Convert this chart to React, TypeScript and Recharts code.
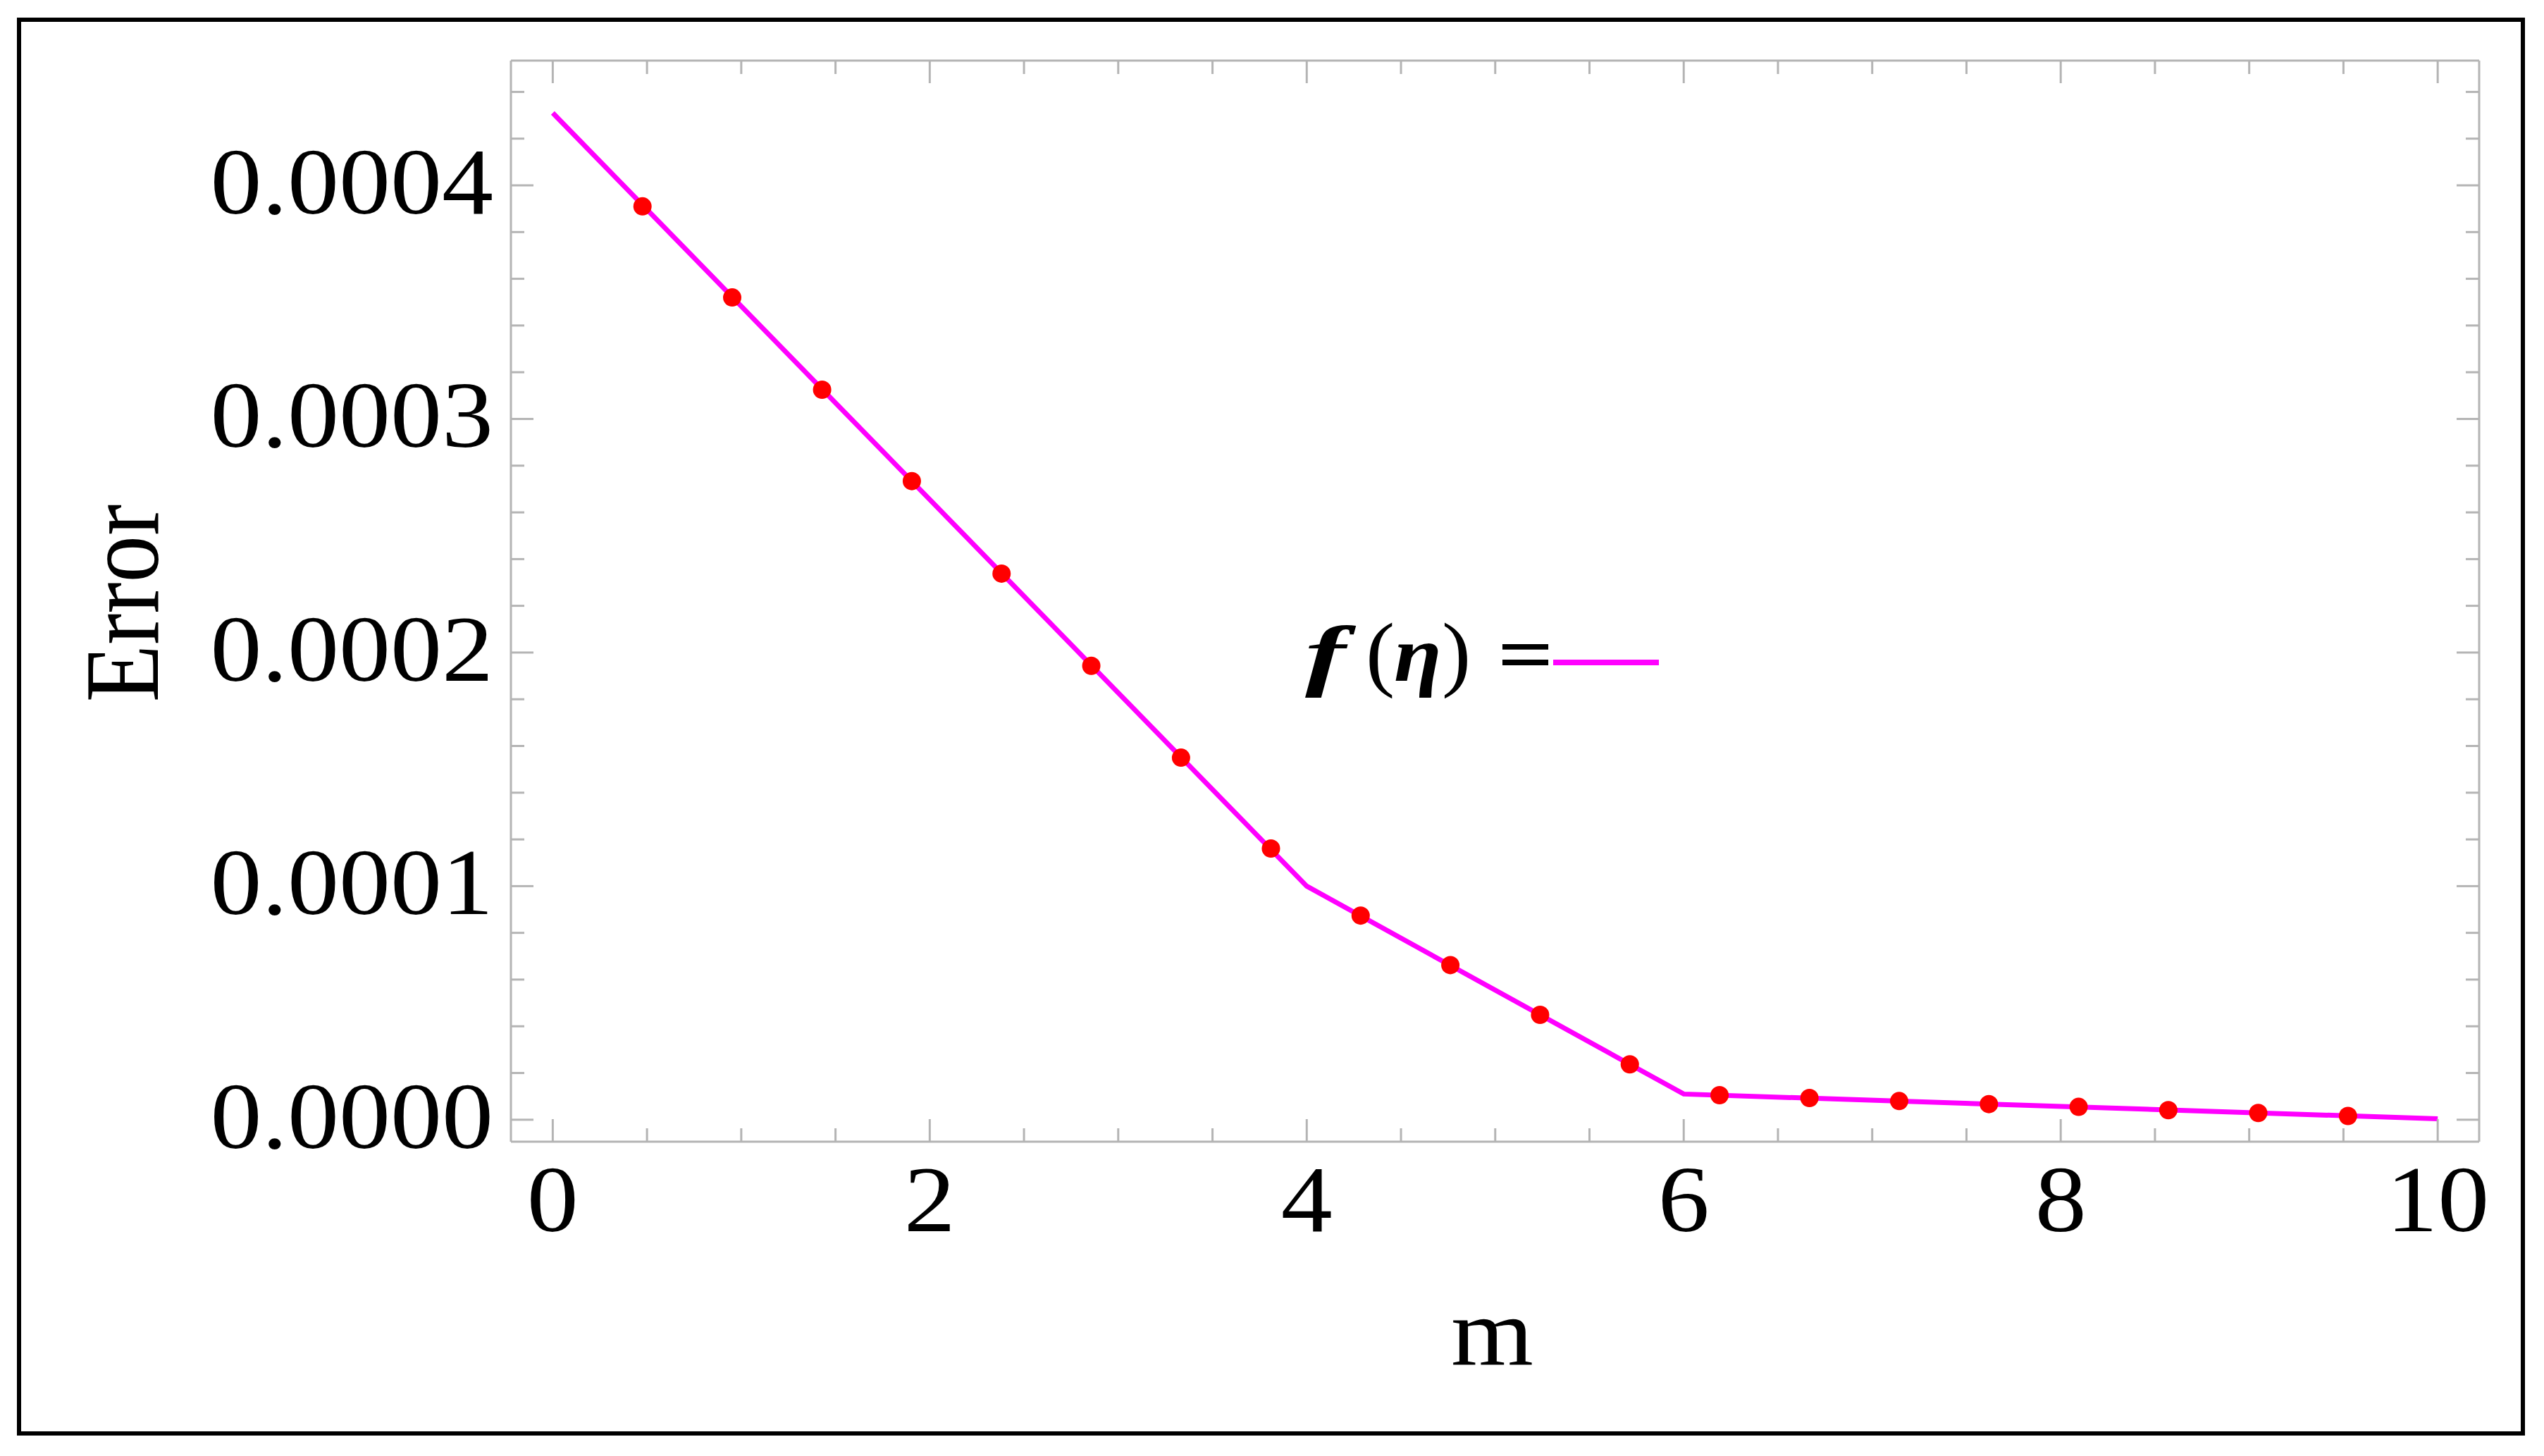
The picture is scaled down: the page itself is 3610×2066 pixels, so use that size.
import { ComposedChart, Legend, Line, Scatter, XAxis, YAxis } from "recharts";

// piecewise curve vertices (m, error)
const curveM = [0, 4, 6, 10];
const curveError = [0.000431, 0.0001, 0.000011, 0.0000004];

// red sample markers
const sampleM = [
  0.476, 0.952, 1.429, 1.905, 2.381, 2.857, 3.333, 3.81, 4.286, 4.762,
  5.238, 5.714, 6.19, 6.667, 7.143, 7.619, 8.095, 8.571, 9.048, 9.524
];
const sampleError = [
  0.000391, 0.000352, 0.0003125, 0.0002734, 0.0002338, 0.0001943, 0.000155, 0.0001161, 0.0000874, 0.0000662,
  0.0000449, 0.0000237, 0.0000105, 0.0000093, 0.000008, 0.0000067, 0.0000055, 0.0000041, 0.0000029, 0.0000016
];

const xTicks = [0, 0.5, 1, 1.5, 2, 2.5, 3, 3.5, 4, 4.5, 5, 5.5, 6, 6.5, 7, 7.5, 8, 8.5, 9, 9.5, 10];
const xMajor = [0, 2, 4, 6, 8, 10];
const xMajorLabels = ["0", "2", "4", "6", "8", "10"];

const yTicks = [
  0, 0.00002, 0.00004, 0.00006, 0.00008, 0.0001, 0.00012, 0.00014, 0.00016, 0.00018, 0.0002, 0.00022,
  0.00024, 0.00026, 0.00028, 0.0003, 0.00032, 0.00034, 0.00036, 0.00038, 0.0004, 0.00042, 0.00044
];
const yMajor = [0, 0.0001, 0.0002, 0.0003, 0.0004];
const yMajorLabels = ["0.0000", "0.0001", "0.0002", "0.0003", "0.0004"];

const xDomain = [-0.222, 10.22];
const yDomain = [-0.0000094, 0.0004534];

const curveRows = curveM.map((m, i) => ({ m, err: curveError[i] }));
const sampleRows = sampleM.map((m, i) => ({ m, err: sampleError[i] }));

const GRAY = "#b4b4b4";
const FONT = '"Liberation Serif", "Times New Roman", serif';
const STRETCH = 1.09;
const TICK_FONT = 134;
const MAJOR_LEN = 32;
const MINOR_LEN = 19;

function majorIndex(list: number[], v: number) {
  return list.findIndex((t) => Math.abs(t - v) < 1e-9);
}

function BottomTick(props: any) {
  const { x, y, payload } = props;
  const idx = majorIndex(xMajor, payload.value);
  return (
    <g>
      <line x1={x} x2={x} y1={y} y2={y - (idx >= 0 ? MAJOR_LEN : MINOR_LEN)} stroke={GRAY} strokeWidth={3} />
      {idx >= 0 && (
        <text
          transform={`translate(${x},${y + 127}) scale(${STRETCH},1)`}
          textAnchor="middle"
          fontFamily={FONT}
          fontSize={TICK_FONT}
          fill="#000"
        >
          {xMajorLabels[idx]}
        </text>
      )}
    </g>
  );
}

function TopTick(props: any) {
  const { x, y, payload } = props;
  const major = majorIndex(xMajor, payload.value) >= 0;
  return <line x1={x} x2={x} y1={y} y2={y + (major ? MAJOR_LEN : MINOR_LEN)} stroke={GRAY} strokeWidth={3} />;
}

function LeftTick(props: any) {
  const { x, y, payload } = props;
  const idx = majorIndex(yMajor, payload.value);
  return (
    <g>
      <line x1={x} x2={x + (idx >= 0 ? MAJOR_LEN : MINOR_LEN)} y1={y} y2={y} stroke={GRAY} strokeWidth={3} />
      {idx >= 0 && (
        <text
          transform={`translate(${x - 25},${y + 40}) scale(${STRETCH},1)`}
          textAnchor="end"
          fontFamily={FONT}
          fontSize={TICK_FONT}
          fill="#000"
        >
          {yMajorLabels[idx]}
        </text>
      )}
    </g>
  );
}

function RightTick(props: any) {
  const { x, y, payload } = props;
  const major = majorIndex(yMajor, payload.value) >= 0;
  return <line x1={x} x2={x - (major ? MAJOR_LEN : MINOR_LEN)} y1={y} y2={y} stroke={GRAY} strokeWidth={3} />;
}

function ErrorTitle(props: any) {
  const vb = props.viewBox ?? { x: 724, y: 86, width: 1, height: 1534 };
  const cx = vb.x + vb.width - 501;
  const cy = vb.y + vb.height / 2 + 3;
  return (
    <text
      transform={`translate(${cx},${cy}) scale(1.13,1) rotate(-90)`}
      textAnchor="middle"
      fontFamily={FONT}
      fontSize={133}
      fill="#000"
    >
      Error
    </text>
  );
}

function MTitle(props: any) {
  const vb = props.viewBox ?? { x: 725, y: 1620, width: 2793, height: 1 };
  const cx = vb.x + vb.width / 2 - 4;
  const cy = vb.y + 317;
  return (
    <text
      transform={`translate(${cx},${cy}) scale(${STRETCH},1)`}
      textAnchor="middle"
      fontFamily={FONT}
      fontSize={138}
      fill="#000"
    >
      m
    </text>
  );
}

function LegendKey() {
  const t = (x: number, sx: number) => `translate(${x},106) scale(${sx},1)`;
  return (
    <svg width={560} height={140}>
      <g fontFamily={FONT} fontWeight="bold" fontSize={112} fill="#000">
        <text transform={t(32, 1.55)} fontStyle="italic">f</text>
        <text transform={t(118, 1.05)} fontWeight="normal" fontSize={118}>(</text>
        <text transform={t(158, 1.1)} fontStyle="italic">η</text>
        <text transform={t(226, 1.05)} fontWeight="normal" fontSize={118}>)</text>
        <text transform={t(305, 1.25)}>=</text>
      </g>
      <line x1={384} x2={534} y1={80} y2={80} stroke="#ff00ff" strokeWidth={8} />
    </svg>
  );
}

function RedDot(props: any) {
  return <circle cx={props.cx} cy={props.cy} r={13} fill="#ff0000" />;
}

export default function App() {
  return (
    <div style={{ position: "absolute", left: 0, top: 0, width: 3610, height: 2066, background: "#fff" }}>
      <ComposedChart width={3610} height={2066} margin={{ top: 85, right: 91, bottom: 445, left: 724 }}>
        <XAxis
          dataKey="m"
          type="number"
          domain={xDomain}
          allowDataOverflow
          ticks={xTicks}
          interval={0}
          height={1}
          tickSize={0}
          tickMargin={0}
          tickLine={false}
          axisLine={{ stroke: GRAY, strokeWidth: 3 }}
          tick={BottomTick}
          label={MTitle}
        />
        <XAxis
          xAxisId="top"
          orientation="top"
          dataKey="m"
          type="number"
          domain={xDomain}
          allowDataOverflow
          ticks={xTicks}
          interval={0}
          height={1}
          tickSize={0}
          tickMargin={0}
          tickLine={false}
          axisLine={{ stroke: GRAY, strokeWidth: 3 }}
          tick={TopTick}
        />
        <YAxis
          type="number"
          domain={yDomain}
          allowDataOverflow
          ticks={yTicks}
          interval={0}
          width={1}
          tickSize={0}
          tickMargin={0}
          tickLine={false}
          axisLine={{ stroke: GRAY, strokeWidth: 3 }}
          tick={LeftTick}
          label={ErrorTitle}
        />
        <YAxis
          yAxisId="right"
          orientation="right"
          type="number"
          domain={yDomain}
          allowDataOverflow
          ticks={yTicks}
          interval={0}
          width={1}
          tickSize={0}
          tickMargin={0}
          tickLine={false}
          axisLine={{ stroke: GRAY, strokeWidth: 3 }}
          tick={RightTick}
        />
        <Legend
          layout="horizontal"
          verticalAlign="middle"
          align="center"
          wrapperStyle={{ left: 1820, top: 860, width: 560, height: 140 }}
          content={LegendKey}
        />
        <Line
          data={curveRows}
          dataKey="err"
          type="linear"
          stroke="#ff00ff"
          strokeWidth={7}
          dot={false}
          isAnimationActive={false}
        />
        <Scatter data={sampleRows} dataKey="err" shape={RedDot} isAnimationActive={false} />
      </ComposedChart>
      <div
        style={{
          position: "absolute",
          left: 24,
          top: 25,
          width: 3559,
          height: 2012,
          border: "6px solid #000",
          boxSizing: "border-box",
          pointerEvents: "none"
        }}
      />
    </div>
  );
}
